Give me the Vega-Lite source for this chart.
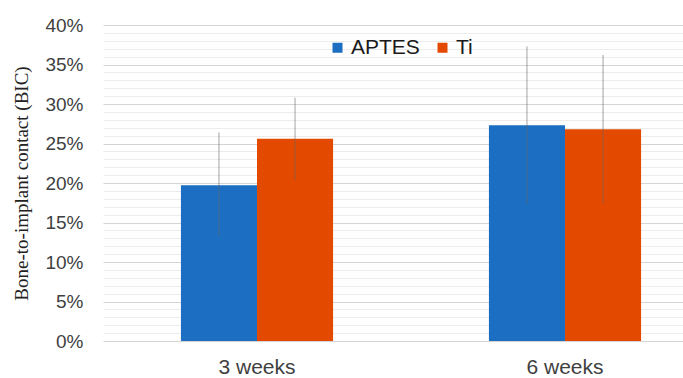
{
  "$schema": "https://vega.github.io/schema/vega-lite/v6.json",
  "width": 616,
  "height": 316,
  "autosize": {"type": "none"},
  "padding": {"left": 103, "top": 25, "right": 0, "bottom": 37},
  "background": "white",
  "config": {
    "view": {"stroke": null},
    "font": "Liberation Sans"
  },
  "data": {
    "values": [
      {"week": "3 weeks", "group": "APTES", "bic": 0.197, "lo": 0.132, "hi": 0.264},
      {"week": "3 weeks", "group": "Ti", "bic": 0.256, "lo": 0.204, "hi": 0.308},
      {"week": "6 weeks", "group": "APTES", "bic": 0.273, "lo": 0.173, "hi": 0.373},
      {"week": "6 weeks", "group": "Ti", "bic": 0.268, "lo": 0.174, "hi": 0.362}
    ]
  },
  "encoding": {
    "x": {
      "field": "week",
      "type": "nominal",
      "scale": {"paddingInner": 0.506, "paddingOuter": 0.253},
      "axis": {
        "title": null,
        "labelAngle": 0,
        "labelFontSize": 21,
        "labelColor": "#3f3f3f",
        "labelPadding": 15,
        "ticks": false,
        "domain": false
      }
    },
    "xOffset": {"field": "group", "type": "nominal", "scale": {"paddingInner": 0, "paddingOuter": 0}}
  },
  "resolve": {"axis": {"y": "independent"}},
  "layer": [
    {
      "mark": {"type": "rule", "opacity": 0},
      "encoding": {
        "y": {
          "field": "bic",
          "type": "quantitative",
          "scale": {"domain": [0, 0.4], "nice": false},
          "axis": {
            "orient": "right",
            "title": null,
            "values": [0.01,0.02,0.03,0.04,0.06,0.07,0.08,0.09,0.11,0.12,0.13,0.14,0.16,0.17,0.18,0.19,0.21,0.22,0.23,0.24,0.26,0.27,0.28,0.29,0.31,0.32,0.33,0.34,0.36,0.37,0.38,0.39],
            "labels": false,
            "ticks": false,
            "domain": false,
            "grid": true,
            "gridColor": "#ececec",
            "gridWidth": 1
          }
        }
      }
    },
    {
      "mark": {"type": "bar"},
      "encoding": {
        "y": {
          "field": "bic",
          "type": "quantitative",
          "scale": {"domain": [0, 0.4], "nice": false},
          "axis": {
            "orient": "left",
            "title": "Bone-to-implant contact (BIC)",
            "titleFont": "Liberation Serif",
            "titleFontWeight": "normal",
            "titleFontSize": 19,
            "titleColor": "#222222",
            "titlePadding": 13,
            "values": [0,0.05,0.1,0.15,0.2,0.25,0.3,0.35,0.4],
            "format": ".0%",
            "labelOverlap": false,
            "labelFontSize": 19,
            "labelColor": "#3f3f3f",
            "labelPadding": 20,
            "ticks": false,
            "domain": false,
            "grid": true,
            "gridColor": "#d4d4d4",
            "gridWidth": 1
          }
        },
        "color": {
          "field": "group",
          "type": "nominal",
          "scale": {"domain": ["APTES", "Ti"], "range": ["#1b6ec2", "#e34a00"]},
          "legend": {
            "title": null,
            "orient": "none",
            "direction": "horizontal",
            "legendX": 224,
            "legendY": 12,
            "symbolType": "square",
            "symbolSize": 100,
            "symbolStrokeWidth": 0,
            "labelFontSize": 21,
            "labelColor": "#1a1a1a",
            "columnPadding": 12,
            "labelOffset": 3
          }
        }
      }
    },
    {
      "mark": {"type": "rule", "color": "#666666", "opacity": 0.6, "strokeWidth": 1},
      "encoding": {
        "y": {"field": "lo", "type": "quantitative", "axis": null},
        "y2": {"field": "hi"}
      }
    }
  ]
}
